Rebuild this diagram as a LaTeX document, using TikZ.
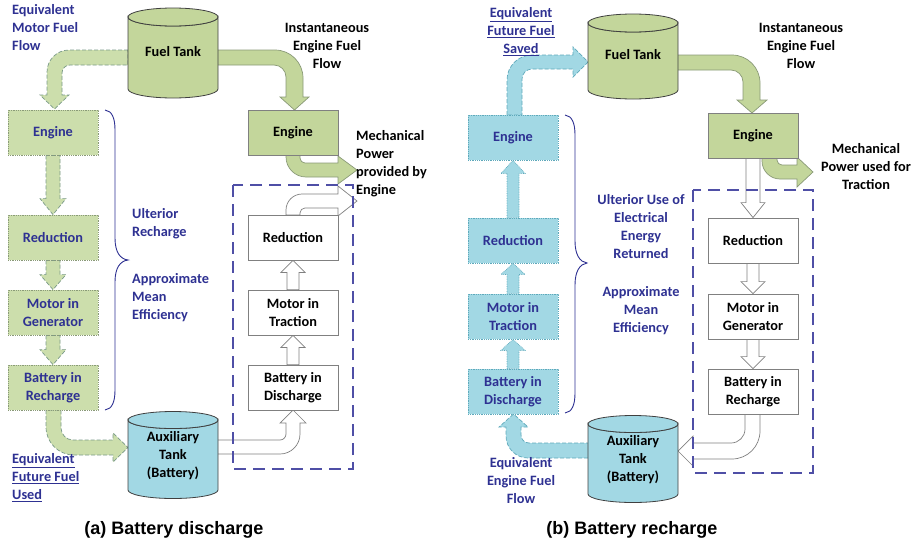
\documentclass[tikz,border=0pt]{standalone}
\usepackage{fontspec}
\setmainfont{Carlito}
\newfontfamily\capfont{Liberation Sans}
\usetikzlibrary{calc}
\pgfdeclarelayer{bg}
\pgfsetlayers{bg,main}
\definecolor{navy}{HTML}{2E3192}
\definecolor{gfill}{HTML}{C3D69B}
\definecolor{gfillL}{HTML}{CCDEAC}
\definecolor{gline}{HTML}{8A9A78}
\definecolor{gdline}{HTML}{7A9A88}
\definecolor{bfill}{HTML}{A2D8E4}
\definecolor{bline}{HTML}{5FA9BB}
\definecolor{boxline}{HTML}{4F4FA6}
\definecolor{grayline}{HTML}{808080}
\definecolor{tankline}{HTML}{404040}
\newcommand\blkdown[6]{%
 \draw[#1] let \p1=(#2.south), \p2=(#3.north) in
 (\x2-#4,\y1) -- (\x2-#4,\y2+#6) -- (\x2-#5,\y2+#6) -- (\x2,\y2) -- (\x2+#5,\y2+#6) -- (\x2+#4,\y2+#6) -- (\x2+#4,\y1) -- cycle;}
\newcommand\blkup[6]{%
 \draw[#1] let \p1=(#2.north), \p2=(#3.south) in
 (\x2-#4,\y1) -- (\x2-#4,\y2-#6) -- (\x2-#5,\y2-#6) -- (\x2,\y2) -- (\x2+#5,\y2-#6) -- (\x2+#4,\y2-#6) -- (\x2+#4,\y1) -- cycle;}
\begin{document}
\begin{tikzpicture}[x=1pt,y=-1pt,
  txt/.style={font=\bfseries\fontsize{14.3}{18}\selectfont, inner sep=0pt, align=center},
  solidbox/.style={txt, draw=grayline, line width=0.8pt, minimum width=90pt, minimum height=45pt, text=black},
  gbox/.style={solidbox, fill=gfill},
  wbox/.style={solidbox, fill=white},
  dgbox/.style={txt, draw=gline, densely dotted, line width=0.8pt, fill=gfillL, minimum width=90pt, minimum height=45pt, text=navy},
  dbbox/.style={txt, draw=bline, densely dotted, line width=0.8pt, fill=bfill, minimum width=90pt, minimum height=45pt, text=navy},
  gdash/.style={fill=gfillL, draw=gdline, dash pattern=on 4pt off 2pt, line width=0.7pt},
  garrow/.style={fill=gfill, draw=gline, line width=0.7pt},
  bdash/.style={fill=bfill, draw=bline, dash pattern=on 4pt off 2pt, line width=0.7pt},
  bdot/.style={fill=bfill, draw=bline, densely dotted, line width=0.7pt},
  warrow/.style={fill=white, draw=grayline, line width=0.7pt},
  dbx/.style={draw=boxline, line width=1.8pt, dash pattern=on 12pt off 7pt},
  brace/.style={draw=navy, line width=0.9pt},
  tankg/.style={fill=gfill, draw=tankline, line width=0.8pt},
  tankb/.style={fill=bfill, draw=tankline, line width=0.8pt},
  caption/.style={font=\capfont\bfseries\fontsize{18}{22}\selectfont, inner sep=0pt}
]
\useasboundingbox (0,0) rectangle (917,546);

% ---------------- tanks (a)
\filldraw[tankg] (128,17) -- (128,89) arc[start angle=180, end angle=0, x radius=45, y radius=9] -- (218,17) arc[start angle=0, end angle=180, x radius=45, y radius=9] -- cycle;
\filldraw[tankg] (173,17) ellipse[x radius=45, y radius=9];
\filldraw[tankb] (128,420) -- (128,490) arc[start angle=180, end angle=0, x radius=45, y radius=8.5] -- (218,420) arc[start angle=0, end angle=180, x radius=45, y radius=8.5] -- cycle;
\filldraw[tankb] (173,420) ellipse[x radius=45, y radius=8.5];
% ---------------- tanks (b)
\filldraw[tankg] (588,23) -- (588,90) arc[start angle=180, end angle=0, x radius=45, y radius=9] -- (678,23) arc[start angle=0, end angle=180, x radius=45, y radius=9] -- cycle;
\filldraw[tankg] (633,23) ellipse[x radius=45, y radius=9];
\filldraw[tankb] (588,424) -- (588,494) arc[start angle=180, end angle=0, x radius=45, y radius=8.5] -- (678,424) arc[start angle=0, end angle=180, x radius=45, y radius=8.5] -- cycle;
\filldraw[tankb] (633,424) ellipse[x radius=45, y radius=8.5];

\node[txt, text=black] (ftA) at (173,52) {Fuel Tank};
\node[txt, text=black] (atA) at (173,456) {Auxiliary\\Tank\\(Battery)};
\node[txt, text=black] (ftB) at (633,55) {Fuel Tank};
\node[txt, text=black] (atB) at (633,460) {Auxiliary\\Tank\\(Battery)};

% ---------------- boxes (a)
\node[dgbox] (eA) at (53,132.5) {Engine};
\node[dgbox] (rA) at (53,237.5) {Reduction};
\node[dgbox] (mA) at (53,312.5) {Motor in\\Generator};
\node[dgbox] (bA) at (53,387.5) {Battery in\\Recharge};
\node[gbox] (eA2) at (293,132.5) {Engine};
\node[wbox] (rA2) at (293,237.5) {Reduction};
\node[wbox] (mA2) at (293,312.5) {Motor in\\Traction};
\node[wbox] (bA2) at (293,387.5) {Battery in\\Discharge};
% ---------------- boxes (b)
\node[dbbox] (eB) at (513,137.5) {Engine};
\node[dbbox] (rB) at (513,240.5) {Reduction};
\node[dbbox] (mB) at (513,316.5) {Motor in\\Traction};
\node[dbbox] (bB) at (513,391.5) {Battery in\\Discharge};
\node[gbox] (eB2) at (753,135.5) {Engine};
\node[wbox] (rB2) at (753,240.5) {Reduction};
\node[wbox] (mB2) at (753,316.5) {Motor in\\Generator};
\node[wbox] (bB2) at (753,391.5) {Battery in\\Recharge};

% ---------------- dashed boxes
\draw[dbx] (233,185) rectangle (353,469);
\draw[dbx] (693,190) rectangle (813,473);

% ---------------- braces
\draw[brace] (105,110) .. controls (112,111) and (115,118) .. (115,130) -- (115,238) .. controls (115,252) and (120,259) .. (128,260) .. controls (120,261) and (115,268) .. (115,282) -- (115,390) .. controls (115,402) and (112,409) .. (105,410);
\draw[brace] (565,115) .. controls (572,116) and (575,123) .. (575,135) -- (575,241) .. controls (575,255) and (580,262) .. (587,263) .. controls (580,264) and (575,271) .. (575,285) -- (575,393) .. controls (575,405) and (572,412) .. (565,413);

% ---------------- labels (a)
\node[txt, text=navy, align=left, anchor=west] (lA1) at (12,28) {Equivalent\\Motor Fuel\\Flow};
\node[txt, text=black] (lA2) at (327,46) {Instantaneous\\Engine Fuel\\Flow};
\node[txt, text=black, align=left, anchor=west] (lA3) at (356,164) {Mechanical\\Power\\provided by\\Engine};
\node[txt, text=navy, align=left, anchor=west] (lA4) at (132,224) {Ulterior\\Recharge};
\node[txt, text=navy, align=left, anchor=west] (lA5) at (132,298) {Approximate\\Mean\\Efficiency};
\node[txt, text=navy, align=left, anchor=west] (lA6) at (12,478) {\underline{Equivalent}\\\underline{Future Fuel}\\\underline{Used}};
\node[caption] (capA) at (174,530) {(a) Battery discharge};
% ---------------- labels (b)
\node[txt, text=navy] (lB1) at (521,32) {\underline{Equivalent}\\\underline{Future Fuel}\\\underline{Saved}};
\node[txt, text=black] (lB2) at (801,46) {Instantaneous\\Engine Fuel\\Flow};
\node[txt, text=black] (lB3) at (866,167) {Mechanical\\Power used for\\Traction};
\node[txt, text=navy] (lB4) at (641,227) {Ulterior Use of\\Electrical\\Energy\\Returned};
\node[txt, text=navy] (lB5) at (641,311) {Approximate\\Mean\\Efficiency};
\node[txt, text=navy] (lB6) at (521,481) {Equivalent\\Engine Fuel\\Flow};
\node[caption] (capB) at (632,530) {(b) Battery recharge};

\begin{pgfonlayer}{bg}
% ---- (a) curved block arrows
\draw[gdash] (128,50) -- (69,50) .. controls (56.9,50) and (47,59.9) .. (47,72) -- (47,95) -- (40,95) -- (54.5,109) -- (69,95) -- (62,95) -- (62,73) .. controls (62,68.6) and (65.6,65) .. (70,65) -- (128,65) -- cycle;
\draw[garrow] (210,50) -- (275,50) .. controls (290.5,50) and (303,62.5) .. (303,78) -- (303,97) -- (309,97) -- (294.5,110) -- (280,97) -- (286,97) -- (286,77) .. controls (286,70.4) and (280.6,65) .. (274,65) -- (210,65) -- cycle;
\draw[garrow] (286,155) -- (286,157) .. controls (286,168) and (295,177) .. (306,177) -- (338,177) -- (338,184) -- (357,170) -- (338,156) -- (338,163) -- (305,163) .. controls (302.2,163) and (300,160.8) .. (300,158) -- (300,155) -- cycle;
\draw[warrow] (286,215) -- (286,210) .. controls (286,201.2) and (293.2,194) .. (302,194) -- (338,194) -- (338,186) -- (357,201) -- (338,216) -- (338,208) -- (305,208) .. controls (302.2,208) and (300,210.2) .. (300,213) -- (300,215) -- cycle;
\draw[warrow] (210,440) -- (280,440) .. controls (283.3,440) and (286,437.3) .. (286,434) -- (286,423) -- (280,423) -- (293,410) -- (306,423) -- (300,423) -- (300,434) .. controls (300,445) and (291,454) .. (280,454) -- (210,454) -- cycle;
\draw[gdash] (46,410) -- (46,427) .. controls (46,442.5) and (58.5,455) .. (74,455) -- (113,455) -- (113,462) -- (128,447.5) -- (113,433) -- (113,440) -- (73,440) .. controls (66.4,440) and (61,434.6) .. (61,428) -- (61,410) -- cycle;
% ---- (a) straight block arrows
\blkdown{gdash}{eA}{rA}{7pt}{13pt}{16pt}
\blkdown{gdash}{rA}{mA}{7pt}{13pt}{15pt}
\blkdown{gdash}{mA}{bA}{7pt}{13pt}{15pt}
\blkup{warrow}{mA2}{rA2}{6pt}{12pt}{12pt}
\blkup{warrow}{bA2}{mA2}{6pt}{12pt}{12pt}
% ---- (b) curved block arrows
\draw[bdash] (507,115) -- (507,80) .. controls (507,66.2) and (518.2,55) .. (532,55) -- (573,55) -- (573,47) -- (588,62) -- (573,77) -- (573,69) -- (532,69) .. controls (526.5,69) and (522,73.5) .. (522,79) -- (522,115) -- cycle;
\draw[bdash] (596,443) -- (529,443) .. controls (524.6,443) and (521,439.4) .. (521,435) -- (521,427) -- (528,427) -- (513.5,414) -- (499,427) -- (506,427) -- (506,436) .. controls (506,448.1) and (515.9,458) .. (528,458) -- (596,458) -- cycle;
\draw[garrow] (670,55) -- (732,55) .. controls (747.5,55) and (760,67.5) .. (760,83) -- (760,100) -- (767,100) -- (752,113) -- (737,100) -- (743,100) -- (743,82) .. controls (743,75.4) and (737.6,70) .. (731,70) -- (670,70) -- cycle;
\draw[garrow] (762,158) -- (762,161) .. controls (762,170.9) and (770.1,179) .. (780,179) -- (797,179) -- (797,187) -- (813,172) -- (797,157) -- (797,165) -- (782,165) .. controls (779.2,165) and (777,162.8) .. (777,160) -- (777,158) -- cycle;
\draw[warrow] (745,414) -- (745,429) .. controls (745,436.7) and (738.7,443) .. (731,443) -- (693,443) -- (693,436) -- (678,451) -- (693,466) -- (693,459) -- (732,459) .. controls (747.5,459) and (760,446.5) .. (760,431) -- (760,414) -- cycle;
% ---- (b) straight block arrows
\blkup{bdot}{rB}{eB}{6pt}{12pt}{13pt}
\blkup{bdot}{mB}{rB}{6pt}{12pt}{11pt}
\blkup{bdot}{bB}{mB}{6pt}{12pt}{11pt}
\draw[warrow] let \p1=(eB2.south), \p2=(rB2.north) in (\x2-7pt,\y1) -- (\x2-7pt,\y2+15pt) -- (\x2-12pt,\y2+15pt) -- (\x2,\y2) -- (\x2+12pt,\y2+15pt) -- (\x2+7pt,\y2+15pt) -- (\x2+7pt,\y1) -- cycle;
\blkdown{warrow}{rB2}{mB2}{6pt}{12pt}{12pt}
\blkdown{warrow}{mB2}{bB2}{6pt}{12pt}{12pt}
\end{pgfonlayer}
\end{tikzpicture}
\end{document}
